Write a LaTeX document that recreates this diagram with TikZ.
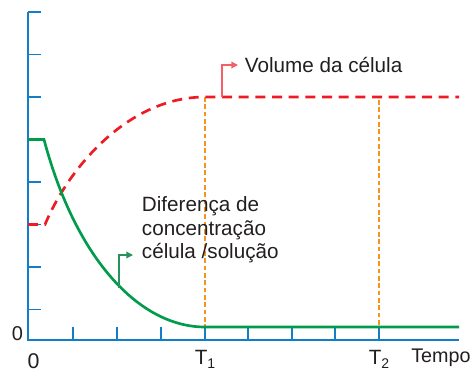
\documentclass[tikz,border=0pt]{standalone}
\usepackage{fontspec}
\setmainfont{Liberation Sans}
\usetikzlibrary{arrows.meta}

\definecolor{axisblue}{RGB}{20,125,200}
\definecolor{difgreen}{RGB}{0,155,75}
\definecolor{volred}{RGB}{237,28,36}
\definecolor{guideorange}{RGB}{247,148,30}
\definecolor{textgray}{RGB}{35,31,32}

\tikzset{
    axisline/.style={axisblue, line width=1.1pt},
    volcurve/.style={volred, line width=2pt, dash pattern=on 7.5pt off 5pt},
    difcurve/.style={difgreen, line width=2pt},
    guide/.style={guideorange, line width=0.9pt, dash pattern=on 3.5pt off 2pt},
    volcall/.style={volred!70, line width=1pt, -{Triangle[length=5pt,width=5pt]}},
    difcall/.style={difgreen!70!gray, line width=1pt, -{Triangle[length=5pt,width=5pt]}},
    lbl/.style={text=textgray, font=\fontsize{15.5pt}{17.5pt}\selectfont, inner sep=0pt},
}
\newcommand{\tlabel}[1]{T\raisebox{-3pt}{\fontsize{10.5pt}{10.5pt}\selectfont #1}}

\begin{document}
\begin{tikzpicture}[x=0.75pt,y=0.75pt,yscale=-1,xscale=1]
            \useasboundingbox (0,0) rectangle (474,372);
            %axes
            \draw [axisline] (28,12) -- (28,340) -- (459,340);
            \foreach \y in {12, 54.5, 97, 139.5, 182, 224.5, 267, 309.5} {
                \draw [axisline] (28,\y) -- (41,\y);
            }
            \foreach \x in {73, 117, 161, 205, 248, 292, 335, 379} {
                \draw [axisline] (\x,340) -- (\x,327);
            }
            %
            %T1 and T2 guides
            \draw [guide] (205,97) -- (205,327);
            \draw [guide] (379,100) -- (379,327);
            %
            %volume da celula
            \draw [volcurve] (28,224.5) -- (45,224.5) .. controls (70,165) and (130,97) .. (205,97) -- (459,97);
            %diferenca de concentracao
            \draw [difcurve] (28,139.5) -- (44,139.5) .. controls (76,260) and (140,327) .. (205,327) -- (459,327);
            %
            %labels
            \node [lbl, anchor=west, inner xsep=5pt] (volume) at (238,65) {Volume da célula};
            \node [lbl, align=left, anchor=north west] (dif) at (141.7,196.5) {Diferença de\\concentração\\célula /solução};
            \coordinate (volfoot) at (222,97);
            \coordinate (diffoot) at (119,288);
            \coordinate (diftip) at (133,255);
            \draw [volcall] (volfoot) |- (volume.west);
            \draw [difcall] (diffoot) |- (diftip);
            %
            %axis labels
            \node [lbl, font=\fontsize{15pt}{15pt}\selectfont] (zeroy) at (17.5,334) {0};
            \node [lbl, font=\fontsize{16pt}{16pt}\selectfont] (zerox) at (33.5,361) {0};
            \node [lbl, anchor=base] (tone) at (205,364) {\tlabel{1}};
            \node [lbl, anchor=base] (ttwo) at (379,364) {\tlabel{2}};
            \node [lbl, anchor=base west, font=\fontsize{14.8pt}{14.8pt}\selectfont] (tempo) at (411,362) {Tempo};
        \end{tikzpicture}
\end{document}
